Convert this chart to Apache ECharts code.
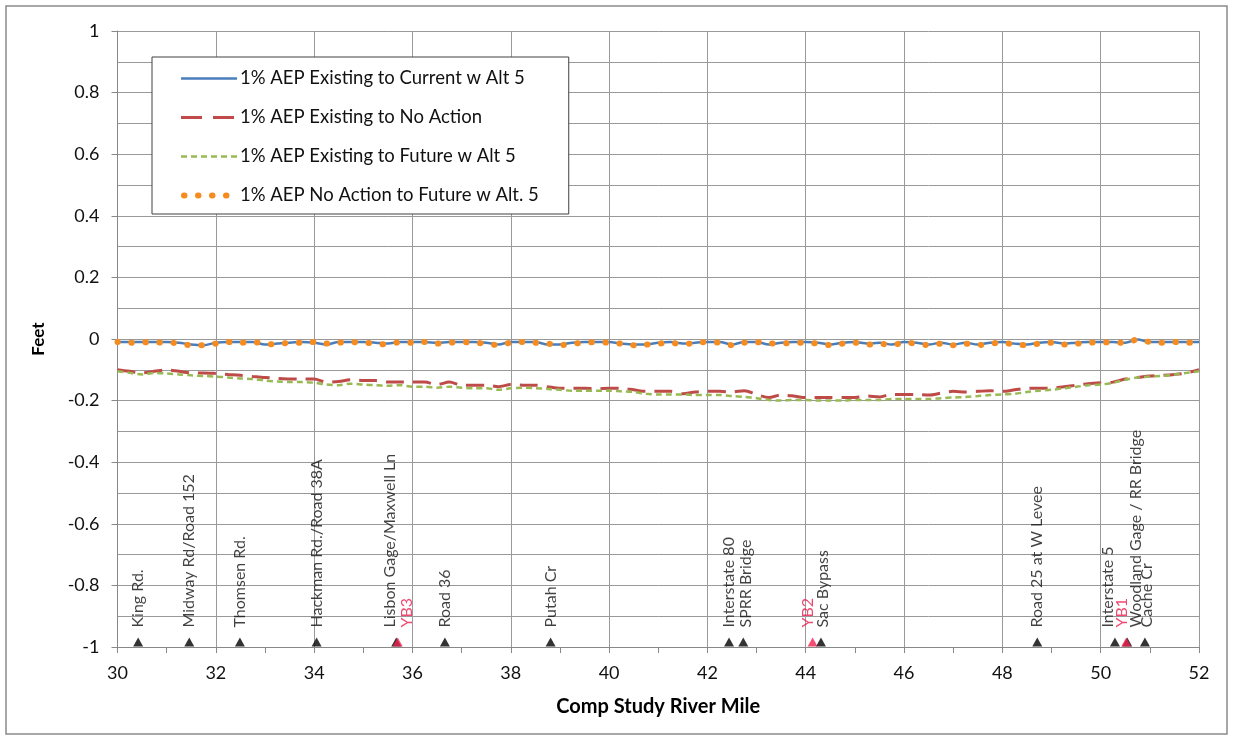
<!DOCTYPE html>
<html>
<head>
<meta charset="utf-8">
<script src="https://cdn.jsdelivr.net/npm/echarts@6/dist/echarts.min.js"></script>
<style>
html,body{margin:0;padding:0;background:#fff;}
#chart{width:1233px;height:740px;}
</style>
</head>
<body>
<div id="chart"></div>
<script>
// ---------- DATA ----------
const riverMiles = [30.00,30.25,30.50,30.75,31.00,31.25,31.50,31.75,32.00,32.25,32.50,32.75,33.00,33.25,33.50,33.75,34.00,34.25,34.50,34.75,35.00,35.25,35.50,35.75,36.00,36.25,36.50,36.75,37.00,37.25,37.50,37.75,38.00,38.25,38.50,38.75,39.00,39.25,39.50,39.75,40.00,40.25,40.50,40.75,41.00,41.25,41.50,41.75,42.00,42.25,42.50,42.75,43.00,43.25,43.50,43.75,44.00,44.25,44.50,44.75,45.00,45.25,45.50,45.75,46.00,46.25,46.50,46.75,47.00,47.25,47.50,47.75,48.00,48.25,48.50,48.75,49.00,49.25,49.50,49.75,50.00,50.25,50.50,50.75,51.00,51.25,51.50,51.75,52.00];

const existingToCurrentAlt5 = [-0.010,-0.010,-0.010,-0.010,-0.010,-0.012,-0.018,-0.020,-0.012,-0.010,-0.010,-0.010,-0.018,-0.015,-0.012,-0.010,-0.012,-0.018,-0.010,-0.010,-0.010,-0.012,-0.015,-0.010,-0.010,-0.010,-0.012,-0.010,-0.010,-0.010,-0.012,-0.018,-0.010,-0.010,-0.010,-0.018,-0.018,-0.012,-0.010,-0.010,-0.010,-0.015,-0.018,-0.018,-0.012,-0.010,-0.015,-0.012,-0.010,-0.010,-0.018,-0.010,-0.010,-0.018,-0.012,-0.010,-0.010,-0.012,-0.018,-0.012,-0.010,-0.015,-0.012,-0.018,-0.010,-0.012,-0.018,-0.012,-0.018,-0.012,-0.018,-0.012,-0.010,-0.015,-0.018,-0.012,-0.010,-0.015,-0.012,-0.010,-0.010,-0.010,-0.012,-0.002,-0.010,-0.010,-0.010,-0.010,-0.010];

const existingToNoAction = [-0.100,-0.105,-0.110,-0.105,-0.100,-0.105,-0.110,-0.110,-0.112,-0.115,-0.118,-0.122,-0.125,-0.128,-0.130,-0.130,-0.130,-0.140,-0.138,-0.132,-0.135,-0.135,-0.140,-0.140,-0.140,-0.140,-0.148,-0.140,-0.150,-0.150,-0.150,-0.155,-0.148,-0.150,-0.150,-0.155,-0.160,-0.160,-0.160,-0.162,-0.160,-0.160,-0.165,-0.170,-0.170,-0.170,-0.178,-0.172,-0.170,-0.170,-0.172,-0.168,-0.180,-0.190,-0.182,-0.185,-0.190,-0.190,-0.190,-0.190,-0.190,-0.185,-0.188,-0.180,-0.180,-0.180,-0.182,-0.176,-0.170,-0.172,-0.170,-0.168,-0.170,-0.165,-0.160,-0.160,-0.160,-0.155,-0.150,-0.145,-0.142,-0.140,-0.130,-0.125,-0.120,-0.118,-0.115,-0.110,-0.100];

const existingToFutureAlt5 = [-0.105,-0.110,-0.115,-0.110,-0.112,-0.115,-0.118,-0.120,-0.122,-0.125,-0.128,-0.130,-0.135,-0.138,-0.140,-0.140,-0.142,-0.148,-0.150,-0.145,-0.148,-0.150,-0.152,-0.150,-0.155,-0.155,-0.158,-0.155,-0.158,-0.160,-0.160,-0.165,-0.160,-0.158,-0.160,-0.162,-0.165,-0.168,-0.168,-0.168,-0.168,-0.170,-0.172,-0.178,-0.180,-0.180,-0.180,-0.182,-0.182,-0.182,-0.185,-0.188,-0.192,-0.198,-0.200,-0.198,-0.198,-0.200,-0.200,-0.200,-0.198,-0.198,-0.198,-0.195,-0.195,-0.195,-0.195,-0.192,-0.190,-0.188,-0.185,-0.182,-0.180,-0.178,-0.172,-0.168,-0.165,-0.160,-0.155,-0.150,-0.148,-0.142,-0.132,-0.125,-0.122,-0.120,-0.115,-0.110,-0.105];

const noActionToFutureAlt5 = [-0.010,-0.012,-0.010,-0.012,-0.010,-0.015,-0.020,-0.020,-0.015,-0.010,-0.012,-0.010,-0.015,-0.018,-0.012,-0.012,-0.010,-0.015,-0.012,-0.010,-0.012,-0.015,-0.018,-0.010,-0.012,-0.010,-0.015,-0.012,-0.010,-0.012,-0.015,-0.020,-0.012,-0.010,-0.012,-0.015,-0.020,-0.015,-0.012,-0.010,-0.012,-0.015,-0.020,-0.018,-0.015,-0.012,-0.018,-0.012,-0.010,-0.012,-0.020,-0.012,-0.010,-0.015,-0.015,-0.012,-0.012,-0.015,-0.020,-0.015,-0.012,-0.018,-0.015,-0.020,-0.012,-0.015,-0.020,-0.015,-0.020,-0.015,-0.020,-0.015,-0.012,-0.018,-0.020,-0.015,-0.012,-0.018,-0.015,-0.012,-0.010,-0.012,-0.012,-0.002,-0.010,-0.012,-0.010,-0.012,-0.010];

const landmarkNames = ['King Rd.','Midway Rd/Road 152','Thomsen Rd.','Hackman Rd./Road 38A','Lisbon Gage/Maxwell Ln','Road 36','Putah Cr','Interstate 80','SPRR Bridge','Sac Bypass','Road 25 at W Levee','Interstate 5','Woodland Gage / RR Bridge','Cache Cr'];
const landmarkMiles = [30.42,31.46,32.49,34.05,35.67,36.66,38.81,42.44,42.73,44.31,48.71,50.29,50.54,50.90];

const gageNames = ['YB3','YB2','YB1'];
const gageMiles = [35.70,44.14,50.52];

const seriesNames = ['1% AEP Existing to Current w Alt 5','1% AEP Existing to No Action','1% AEP Existing to Future w Alt 5','1% AEP No Action to Future w Alt. 5'];

// ---------- STYLE helpers ----------
const labelShift = {'Lisbon Gage/Maxwell Ln':-6,'SPRR Bridge':3,'Sac Bypass':2,'Interstate 5':-7,'Woodland Gage / RR Bridge':9,'Cache Cr':2,'YB3':9,'YB2':-5,'YB1':-4};
const FONT = 'Lato, "Open Sans", sans-serif';
const pair = (xs, ys) => xs.map((x, i) => [x, ys[i]]);

function markerSeries(names, miles, color, textColor){
  return {
    type:'scatter', symbol:'triangle', symbolSize:[10,9], symbolOffset:[0,-5],
    itemStyle:{color:color}, silent:true, z:5,
    data: names.map((n,i)=>({
      value:[miles[i], -1], name:n,
      label:{offset:[0, labelShift[n]||0]}
    })),
    label:{
      show:true, formatter:p=>p.name, rotate:90, position:'top', distance:10,
      align:'left', verticalAlign:'middle',
      color:textColor, fontFamily:FONT, fontSize:16
    }
  };
}

const chart = echarts.init(document.getElementById('chart'), null, {renderer:'canvas'});
chart.setOption({
  animation:false,
  backgroundColor:'#fff',
  textStyle:{fontFamily:FONT},
  graphic:[{type:'rect', shape:{x:6,y:6,width:1221,height:728}, style:{fill:'none', stroke:'#8a8a8a', lineWidth:1.5}, silent:true}],
  grid:{left:117.5, right:34, top:31, bottom:93, containLabel:false},
  legend:{
    orient:'vertical', left:152, top:57,
    backgroundColor:'#fff', borderColor:'#404040', borderWidth:1,
    padding:[12,30,9,26], itemGap:20, itemWidth:56, itemHeight:16,
    itemStyle:{opacity:0},
    textStyle:{fontSize:18.5, color:'#111', fontFamily:FONT, padding:[0,0,0,-2]},
    data:[
      {name:seriesNames[0], lineStyle:{width:2.5}},
      {name:seriesNames[1], lineStyle:{width:3, type:[21,11]}},
      {name:seriesNames[2], lineStyle:{width:2.5, type:[6,4]}},
      {name:seriesNames[3], lineStyle:{width:6, type:[0.5,13.5], cap:'round', dashOffset:-3}}
    ]
  },
  xAxis:{
    type:'value', min:30, max:52, interval:2,
    name:'Comp Study River Mile', nameLocation:'middle', nameGap:50,
    nameTextStyle:{fontWeight:'bold', fontSize:20, color:'#000', fontFamily:FONT},
    axisLine:{show:true, onZero:false, lineStyle:{color:'#888', width:1}},
    axisTick:{show:true, length:6, lineStyle:{color:'#888'}},
    minorTick:{show:true, splitNumber:2, length:6, lineStyle:{color:'#888'}},
    axisLabel:{fontSize:18, color:'#111', margin:17, fontFamily:FONT},
    splitLine:{show:true, lineStyle:{color:'#999', width:1}}
  },
  yAxis:{
    type:'value', min:-1, max:1, interval:0.2,
    name:'Feet', nameLocation:'middle', nameGap:70, nameRotate:90,
    nameTextStyle:{fontWeight:'bold', fontSize:17, color:'#000', fontFamily:FONT},
    axisLine:{show:true, lineStyle:{color:'#888', width:1}},
    axisTick:{show:true, length:6, lineStyle:{color:'#888'}},
    axisLabel:{fontSize:18, color:'#111', margin:18, fontFamily:FONT},
    splitLine:{show:true, lineStyle:{color:'#999', width:1}},
    minorTick:{show:false, splitNumber:2},
    minorSplitLine:{show:true, lineStyle:{color:'#999', width:1}}
  },
  series:[
    {name:seriesNames[0], type:'line', symbol:'none', smooth:0.3, data:pair(riverMiles, existingToCurrentAlt5),
      lineStyle:{color:'#4a7ebb', width:2.5}, itemStyle:{color:'#4a7ebb'}, z:3},
    {name:seriesNames[1], type:'line', symbol:'none', smooth:0.3, data:pair(riverMiles, existingToNoAction),
      lineStyle:{color:'#be4b48', width:3, type:[18,9]}, itemStyle:{color:'#be4b48'}, z:3},
    {name:seriesNames[2], type:'line', symbol:'none', smooth:0.3, data:pair(riverMiles, existingToFutureAlt5),
      lineStyle:{color:'#98b954', width:2.5, type:[6,4]}, itemStyle:{color:'#98b954'}, z:3},
    {name:seriesNames[3], type:'line', symbol:'none', smooth:0.3, data:pair(riverMiles, noActionToFutureAlt5),
      lineStyle:{color:'#f68c1f', width:6, type:[0.5,13.5], cap:'round'}, itemStyle:{color:'#f68c1f'}, z:4},
    markerSeries(landmarkNames, landmarkMiles, '#000', '#111'),
    markerSeries(gageNames, gageMiles, '#f0204f', '#ea1c4e')
  ]
});
</script>
</body>
</html>
